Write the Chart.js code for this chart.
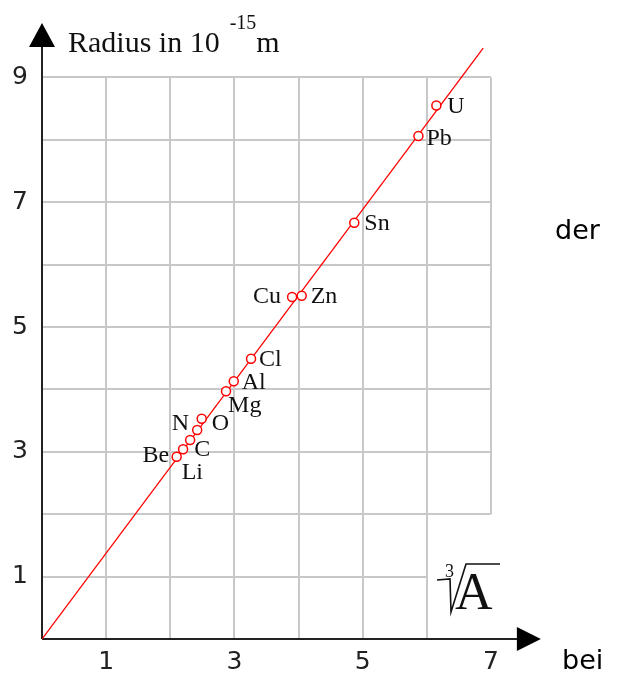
<!DOCTYPE html>
<html lang="de">
<head>
    <meta charset="UTF-8">
    <title>Kernradius</title>
    <style>
        body { margin: 0; padding: 0; background: #fff; }
        .wrap { position: relative; width: 624px; height: 675px; }
    </style>
</head>
<body>
    <div class="wrap"><canvas id="chart"></canvas></div>

    <script src="https://cdn.jsdelivr.net/npm/chart.js"></script>
    <script>
        // Kerne: dritte Wurzel der Massenzahl gegen Radius (10^-15 m)
        const elements = ['Li', 'Be', 'C', 'N', 'O', 'Mg', 'Al', 'Cl', 'Cu', 'Zn', 'Sn', 'Pb', 'U'];
        const cubeRootA = [2.10, 2.20, 2.31, 2.42, 2.49, 2.87, 2.99, 3.26, 3.90, 4.05, 4.87, 5.87, 6.15];
        const radius    = [2.92, 3.04, 3.19, 3.35, 3.53, 3.97, 4.13, 4.49, 5.48, 5.50, 6.67, 8.06, 8.55];

        // Ausgleichsgerade durch den Ursprung
        const fitX = [0, 6.88];
        const fitY = [0, 9.47];

        const xTicks = [1, 3, 5, 7];
        const yTicks = [1, 3, 5, 7, 9];

        // Beschriftung neben den Punkten: [dx, dy, Ausrichtung]
        const labelPlace = {
            Li: [5, 16, 'left'], Be: [-14, 6, 'right'], C: [4, 10, 'left'],
            N: [-8, -6, 'right'], O: [10, 5, 'left'], Mg: [2, 14, 'left'],
            Al: [8, 1, 'left'], Cl: [8, 1, 'left'], Cu: [-11, 0, 'right'],
            Zn: [9, 1, 'left'], Sn: [10, 1, 'left'], Pb: [8, 3, 'left'], U: [11, 1, 'left']
        };

        const red = '#ff0000';
        const serif = '"Liberation Serif", "Times New Roman", serif';
        const sans = '"DejaVu Sans", Verdana, sans-serif';

        // Gitter, Achsenpfeile und Texte
        const decor = {
            id: 'decor',
            beforeDatasetsDraw(chart) {
                const { ctx, scales: { x, y } } = chart;
                ctx.save();
                ctx.strokeStyle = '#c8c8c8';
                ctx.lineWidth = 2;
                // senkrechte Linien
                for (let i = 1; i <= 7; i++) {
                    const px = Math.round(x.getPixelForValue(i));
                    ctx.beginPath();
                    ctx.moveTo(px, y.getPixelForValue(9));
                    ctx.lineTo(px, y.getPixelForValue(i === 7 ? 2 : 0));
                    ctx.stroke();
                }
                // waagerechte Linien
                for (let j = 1; j <= 9; j++) {
                    const py = Math.round(y.getPixelForValue(j));
                    ctx.beginPath();
                    ctx.moveTo(x.getPixelForValue(0), py);
                    ctx.lineTo(x.getPixelForValue(j < 2 ? 6 : 7), py);
                    ctx.stroke();
                }

                // Achsen
                const x0 = x.getPixelForValue(0);
                const y0 = y.getPixelForValue(0);
                const yTip = y.getPixelForValue(9.87);
                const xTip = x.getPixelForValue(7.78);
                ctx.strokeStyle = '#222';
                ctx.fillStyle = '#000';
                ctx.lineWidth = 2;
                ctx.beginPath();
                ctx.moveTo(x0, y0);
                ctx.lineTo(x0, yTip + 10);
                ctx.moveTo(x0, y0);
                ctx.lineTo(xTip - 10, y0);
                ctx.stroke();
                ctx.beginPath();
                ctx.moveTo(x0, yTip);
                ctx.lineTo(x0 - 13, yTip + 24);
                ctx.lineTo(x0 + 13, yTip + 24);
                ctx.closePath();
                ctx.fill();
                ctx.beginPath();
                ctx.moveTo(xTip, y0);
                ctx.lineTo(xTip - 24, y0 - 12);
                ctx.lineTo(xTip - 24, y0 + 12);
                ctx.closePath();
                ctx.fill();
                ctx.restore();
            },
            afterDatasetsDraw(chart) {
                const { ctx, scales: { x, y } } = chart;
                ctx.save();
                ctx.fillStyle = '#111';
                ctx.textBaseline = 'middle';
                ctx.font = '24px ' + serif;
                elements.forEach((el, i) => {
                    const [dx, dy, align] = labelPlace[el];
                    ctx.textAlign = align;
                    ctx.fillText(el, x.getPixelForValue(cubeRootA[i]) + dx, y.getPixelForValue(radius[i]) + dy);
                });

                // Achsentitel oben
                ctx.textAlign = 'left';
                ctx.textBaseline = 'alphabetic';
                ctx.font = '30px ' + serif;
                const tx = x.getPixelForValue(0) + 26;
                ctx.fillText('Radius in 10', tx, 52);
                const w = ctx.measureText('Radius in 10').width;
                ctx.font = '20px ' + serif;
                ctx.fillText('-15', tx + w + 10, 29);
                const ws = ctx.measureText('-15').width;
                ctx.font = '30px ' + serif;
                ctx.fillText('m', tx + w + ws + 10, 52);

                // dritte Wurzel aus A
                const rx = x.getPixelForValue(6.16);
                const ry = y.getPixelForValue(0.93);
                ctx.strokeStyle = '#111';
                ctx.lineWidth = 1.6;
                ctx.beginPath();
                ctx.moveTo(rx, ry - 1);
                ctx.lineTo(rx + 13, ry - 2);
                ctx.lineTo(rx + 14, ry + 31);
                ctx.lineTo(rx + 29, ry - 17);
                ctx.lineTo(rx + 63, ry - 17);
                ctx.stroke();
                ctx.font = '52px ' + serif;
                ctx.fillText('A', rx + 18, ry + 28);
                ctx.font = '18px ' + serif;
                ctx.fillText('3', rx + 8, ry - 4);

                // Wörter am rechten Rand
                ctx.fillStyle = '#000';
                ctx.font = '27px ' + sans;
                ctx.fillText('der', 555, 239);
                ctx.fillText('bei', 562, 669);
                ctx.restore();
            }
        };

        // Achsenbreite fest, ohne Zusatzabstand durch Beschriftungen
        function fixBox(size) {
            return s => {
                if (s.isHorizontal()) s.height = size; else s.width = size;
                s.paddingTop = 0; s.paddingBottom = 0;
                s.paddingLeft = 0; s.paddingRight = 0;
            };
        }

        const ctx = document.getElementById('chart').getContext('2d');
        new Chart(ctx, {
            type: 'scatter',
            data: {
                datasets: [
                    {
                        data: cubeRootA.map((v, i) => ({ x: v, y: radius[i] })),
                        pointRadius: 4.5,
                        pointBorderWidth: 1.5,
                        pointBorderColor: red,
                        pointBackgroundColor: '#fff',
                        order: 1
                    },
                    {
                        type: 'line',
                        data: fitX.map((v, i) => ({ x: v, y: fitY[i] })),
                        borderColor: red,
                        borderWidth: 1.3,
                        pointRadius: 0,
                        order: 2
                    }
                ]
            },
            options: {
                responsive: true,
                maintainAspectRatio: false,
                animation: false,
                layout: { padding: { top: 15, right: 69, left: 0, bottom: 0 } },
                plugins: { legend: { display: false }, tooltip: { enabled: false } },
                scales: {
                    x: {
                        type: 'linear', min: 0, max: 8,
                        grid: { display: false, drawTicks: false },
                        border: { display: false },
                        ticks: {
                            stepSize: 1, padding: 8, color: '#222',
                            font: { family: 'DejaVu Sans', size: 25 },
                            callback: v => xTicks.includes(v) ? String(v) : ''
                        },
                        afterFit: fixBox(36)
                    },
                    y: {
                        type: 'linear', min: 0, max: 10,
                        grid: { display: false, drawTicks: false },
                        border: { display: false },
                        ticks: {
                            stepSize: 1, padding: 14, color: '#222',
                            font: { family: 'DejaVu Sans', size: 25 },
                            callback: v => yTicks.includes(v) ? String(v) : ''
                        },
                        afterFit: fixBox(42)
                    }
                }
            },
            plugins: [decor]
        });
    </script>
</body>
</html>
